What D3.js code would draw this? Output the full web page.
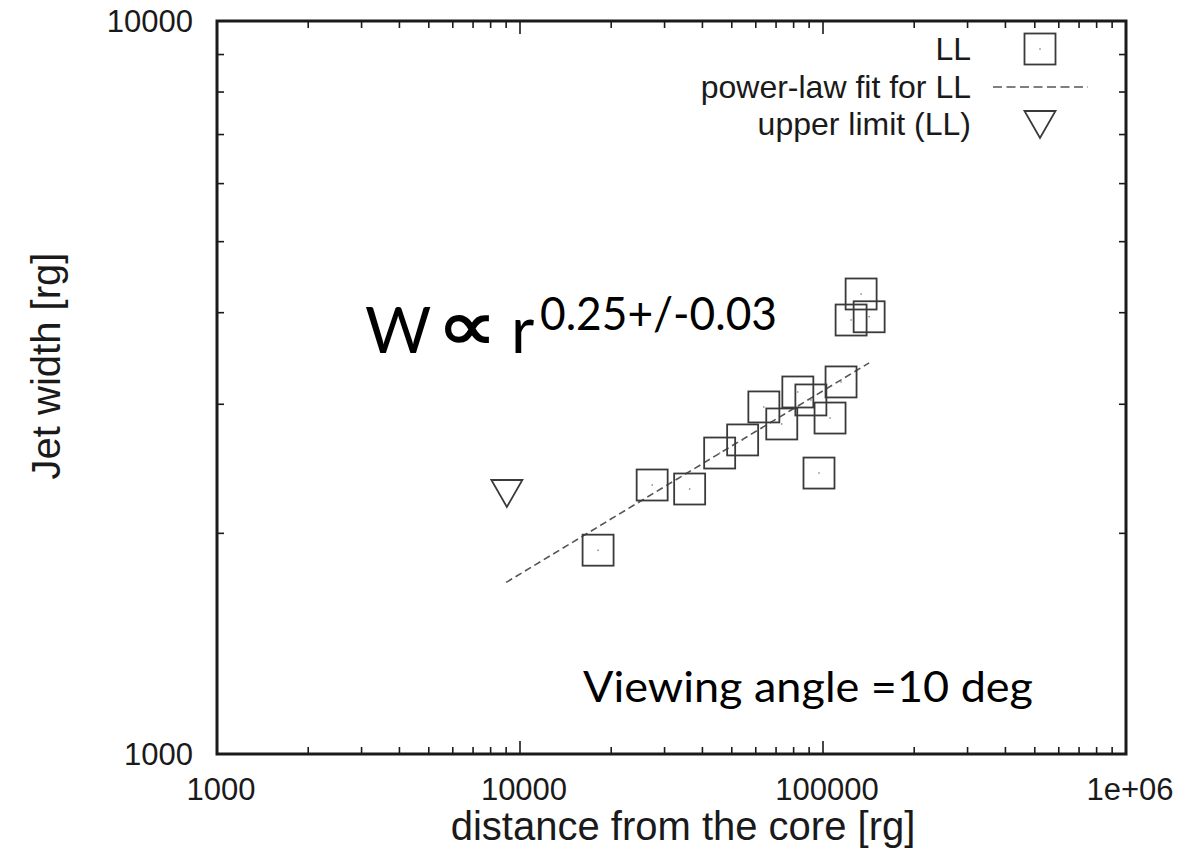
<!DOCTYPE html>
<html>
<head>
<meta charset="utf-8">
<script src="https://cdn.jsdelivr.net/npm/d3@7"></script>
<style>
  html, body { margin: 0; padding: 0; background: #fff; }
  svg { display: block; }
</style>
</head>
<body>
<svg id="chart" width="1202" height="859"></svg>
<script>
// Jet width vs. distance from the core (LL component), log-log
const distanceLL = [18100, 27300, 36300, 45600, 54300, 63800, 73100, 82600, 91200, 105500, 114700, 97000, 133600, 123800, 142000];
const widthLL    = [1897,  2328,  2299,  2574,  2682,  2975,  2820,  3118,  3041,  2873,   3218,   2417,  4242,   3909,   3949];

const upperLimitDistance = [9050];
const upperLimitWidth    = [2270];

// power-law fit W = A * r^k
const fitExponent = 0.25;
const fitCoef = 176;
const fitRange = [9000, 142000];

const xTicks = [1000, 10000, 100000, 1000000];
const xTickLabels = ["1000", "10000", "100000", "1e+06"];
const yTicks = [1000, 10000];
const yTickLabels = ["1000", "10000"];

const legendLabels = ["LL", "power-law fit for LL", "upper limit (LL)"];

const svg = d3.select("#chart");
const plot = { left: 217, right: 1126, top: 21, bottom: 754 };

const x = d3.scaleLog().domain([1000, 1000000]).range([plot.left, plot.right]);
const y = d3.scaleLog().domain([1000, 10000]).range([plot.bottom, plot.top]);

const axisFont = "'Liberation Sans', Arial, sans-serif";
const ink = "#1a1a1a";

// minor ticks for each decade
function minorTicks(domain) {
  const out = [];
  for (let d = domain[0]; d < domain[1]; d *= 10) {
    for (let m = 2; m <= 9; m++) out.push(d * m);
  }
  return out;
}
const xMinor = minorTicks(x.domain());
const yMinor = minorTicks(y.domain());

const majorLen = 13, minorLen = 7;
const ticks = svg.append("g").attr("stroke", ink).attr("stroke-width", 1.6);

// x ticks, bottom and mirrored top
[[xTicks, majorLen], [xMinor, minorLen]].forEach(([vals, len]) => {
  ticks.selectAll(null).data(vals).enter().append("line")
    .attr("x1", d => x(d)).attr("x2", d => x(d))
    .attr("y1", plot.bottom).attr("y2", plot.bottom - len);
  ticks.selectAll(null).data(vals).enter().append("line")
    .attr("x1", d => x(d)).attr("x2", d => x(d))
    .attr("y1", plot.top).attr("y2", plot.top + len);
});
// y ticks, left and mirrored right
[[yTicks, majorLen], [yMinor, minorLen]].forEach(([vals, len]) => {
  ticks.selectAll(null).data(vals).enter().append("line")
    .attr("y1", d => y(d)).attr("y2", d => y(d))
    .attr("x1", plot.left).attr("x2", plot.left + len);
  ticks.selectAll(null).data(vals).enter().append("line")
    .attr("y1", d => y(d)).attr("y2", d => y(d))
    .attr("x1", plot.right).attr("x2", plot.right - len);
});

// frame
svg.append("rect")
  .attr("x", plot.left).attr("y", plot.top)
  .attr("width", plot.right - plot.left).attr("height", plot.bottom - plot.top)
  .attr("fill", "none").attr("stroke", ink).attr("stroke-width", 3);

// tick labels
svg.append("g").selectAll("text").data(xTicks).enter().append("text")
  .attr("x", d => x(d) + 4).attr("y", plot.bottom + 46)
  .attr("text-anchor", "middle")
  .attr("font-family", axisFont).attr("font-size", 31).attr("fill", ink)
  .text((d, i) => xTickLabels[i]);

svg.append("g").selectAll("text").data(yTicks).enter().append("text")
  .attr("x", plot.left - 24).attr("y", d => y(d) + 11)
  .attr("text-anchor", "end")
  .attr("font-family", axisFont).attr("font-size", 31).attr("fill", ink)
  .text((d, i) => yTickLabels[i]);

// axis titles
svg.append("text")
  .attr("x", 683).attr("y", 840)
  .attr("text-anchor", "middle")
  .attr("font-family", axisFont).attr("font-size", 40).attr("fill", ink)
  .text("distance from the core [rg]");

svg.append("text")
  .attr("transform", "translate(60, 366) rotate(-90)")
  .attr("text-anchor", "middle")
  .attr("font-family", axisFont).attr("font-size", 40).attr("fill", ink)
  .text("Jet width [rg]");

// fit line
const fitPts = fitRange.map(r => [r, fitCoef * Math.pow(r, fitExponent)]);
svg.append("path")
  .attr("d", d3.line().x(d => x(d[0])).y(d => y(d[1]))(fitPts))
  .attr("fill", "none").attr("stroke", "#555").attr("stroke-width", 1.6)
  .attr("stroke-dasharray", "7,4");

// squares
const sq = 31;
const pts = distanceLL.map((r, i) => ({ r, w: widthLL[i] }));
const sqG = svg.append("g");
sqG.selectAll("rect").data(pts).enter().append("rect")
  .attr("x", d => x(d.r) - sq / 2).attr("y", d => y(d.w) - sq / 2)
  .attr("width", sq).attr("height", sq)
  .attr("fill", "none").attr("stroke", "#3a3a3a").attr("stroke-width", 1.8);
sqG.selectAll("circle").data(pts).enter().append("circle")
  .attr("cx", d => x(d.r)).attr("cy", d => y(d.w)).attr("r", 0.8).attr("fill", "#666");

// upper-limit triangle
const tri = (cx, cy, s) => `M${cx - s / 2},${cy - s * 0.42}L${cx + s / 2},${cy - s * 0.42}L${cx},${cy + s * 0.45}Z`;
svg.append("g").selectAll("path").data(upperLimitDistance).enter().append("path")
  .attr("d", (d, i) => tri(x(d), y(upperLimitWidth[i]), 31))
  .attr("fill", "none").attr("stroke", "#3a3a3a").attr("stroke-width", 1.8);

// legend
const legRowY = [49, 87, 124];
const legTextX = 971, legKeyX = 1040;
const leg = svg.append("g");
leg.selectAll("text").data(legendLabels).enter().append("text")
  .attr("x", legTextX).attr("y", (d, i) => legRowY[i] + 11)
  .attr("text-anchor", "end")
  .attr("font-family", axisFont).attr("font-size", 32).attr("fill", ink)
  .text(d => d);
leg.append("rect")
  .attr("x", legKeyX - sq / 2).attr("y", legRowY[0] - sq / 2)
  .attr("width", sq).attr("height", sq)
  .attr("fill", "none").attr("stroke", "#3a3a3a").attr("stroke-width", 1.8);
leg.append("circle").attr("cx", legKeyX).attr("cy", legRowY[0]).attr("r", 0.8).attr("fill", "#666");
leg.append("line")
  .attr("x1", legKeyX - 47).attr("x2", legKeyX + 48)
  .attr("y1", legRowY[1]).attr("y2", legRowY[1])
  .attr("stroke", "#555").attr("stroke-width", 1.6).attr("stroke-dasharray", "9,4.5");
leg.append("path").attr("d", tri(legKeyX, legRowY[2], 31))
  .attr("fill", "none").attr("stroke", "#3a3a3a").attr("stroke-width", 1.8);

// annotations
const noteFont = "Lato, 'Open Sans', sans-serif";
const note = svg.append("g").attr("fill", "#000");
note.append("text").attr("x", 365).attr("y", 353)
  .attr("font-family", noteFont).attr("font-size", 64).text("W");
note.append("text").attr("x", 437).attr("y", 350)
  .attr("font-family", "'DejaVu Sans', sans-serif").attr("font-size", 70)
  .attr("stroke", "#000").attr("stroke-width", 1.6)
  .attr("textLength", 60).attr("lengthAdjust", "spacingAndGlyphs").text("\u221D");
note.append("text").attr("x", 511).attr("y", 353)
  .attr("font-family", noteFont).attr("font-size", 64).text("r");
note.append("text").attr("x", 540).attr("y", 330)
  .attr("font-family", noteFont).attr("font-size", 46)
  .attr("textLength", 237).attr("lengthAdjust", "spacingAndGlyphs").text("0.25+/-0.03");

note.append("text")
  .attr("x", 583).attr("y", 702)
  .attr("font-family", noteFont).attr("font-size", 42)
  .attr("textLength", 450).attr("lengthAdjust", "spacingAndGlyphs")
  .text("Viewing angle =10 deg");
</script>
</body>
</html>
